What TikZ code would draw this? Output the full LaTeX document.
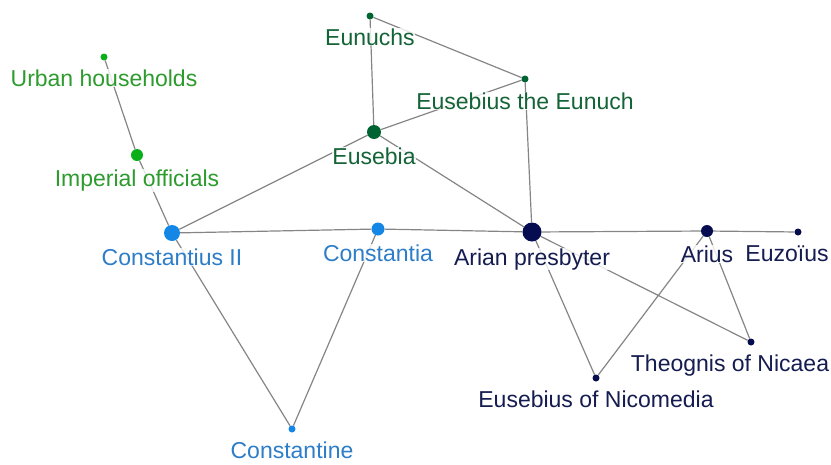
\documentclass[tikz,border=0pt]{standalone}
\usepackage{fontspec}
\setmainfont{Liberation Sans}
\usetikzlibrary{positioning,backgrounds}

\definecolor{ltgreen}{RGB}{10,175,25}
\definecolor{ltgreentxt}{RGB}{45,155,45}
\definecolor{dkgreen}{RGB}{0,100,50}
\definecolor{dkgreentxt}{RGB}{20,100,55}
\definecolor{midblue}{RGB}{20,135,230}
\definecolor{midbluetxt}{RGB}{45,125,200}
\definecolor{navy}{RGB}{5,12,80}
\definecolor{navytxt}{RGB}{20,28,80}

\begin{document}
\begin{tikzpicture}[x=1pt,y=-1pt,
  dot/.style={circle,fill=#1,inner sep=0pt},
  lbl/.style={text=#1,fill=white,fill opacity=0.8,text opacity=1,inner sep=0.5pt,
    font=\fontsize{23}{27}\selectfont},
  link/.style={draw=black!48,line width=1.2pt}]
  \useasboundingbox (0,0) rectangle (831,464);
  % actors
  \node[dot=ltgreen,minimum size=7pt] (uh) at (104,57) {};
  \node[dot=ltgreen,minimum size=12pt] (io) at (137,155) {};
  \node[dot=midblue,minimum size=16pt] (c2) at (172,233) {};
  \node[dot=midblue,minimum size=13pt] (ca) at (378,229) {};
  \node[dot=midblue,minimum size=7pt] (ce) at (292,429) {};
  \node[dot=dkgreen,minimum size=7pt] (eu) at (370,16) {};
  \node[dot=dkgreen,minimum size=7pt] (ee) at (525,79) {};
  \node[dot=dkgreen,minimum size=14pt] (es) at (374,132) {};
  \node[dot=navy,minimum size=19pt] (ap) at (532,232) {};
  \node[dot=navy,minimum size=12pt] (ar) at (707,231) {};
  \node[dot=navy,minimum size=7pt] (ez) at (798,232) {};
  \node[dot=navy,minimum size=7pt] (th) at (751,342) {};
  \node[dot=navy,minimum size=7pt] (en) at (596,378) {};
  % names
  \node[lbl=ltgreentxt,below=8pt of uh] (uhl) {Urban households};
  \node[lbl=ltgreentxt,below=8pt of io] (iol) {Imperial officials};
  \node[lbl=midbluetxt,below=7pt of c2] (c2l) {Constantius II};
  \node[lbl=midbluetxt,below=8pt of ca] (cal) {Constantia};
  \node[lbl=midbluetxt,below=8pt of ce] (cel) {Constantine};
  \node[lbl=dkgreentxt,below=8pt of eu] (eul) {Eunuchs};
  \node[lbl=dkgreentxt,below=9pt of ee] (eel) {Eusebius the Eunuch};
  \node[lbl=dkgreentxt,below=8pt of es] (esl) {Eusebia};
  \node[lbl=navytxt,below=6pt of ap] (apl) {Arian presbyter};
  \node[lbl=navytxt,below=8pt of ar] (arl) {Arius};
  \node[lbl=navytxt,below=9pt of ez,xshift=-11pt] (ezl) {Euzoïus};
  \node[lbl=navytxt,below=8pt of th,xshift=-21pt] (thl) {Theognis of Nicaea};
  \node[lbl=navytxt,below=8pt of en] (enl) {Eusebius of Nicomedia};
  % ties
  \begin{scope}[on background layer]
    \draw[link] (uh) -- (io) -- (c2);
    \draw[link] (c2) -- (es);
    \draw[link] (c2) -- (ca) -- (ap);
    \draw[link] (c2) -- (ce) -- (ca);
    \draw[link] (eu) -- (es) -- (ee) -- (eu);
    \draw[link] (ee) -- (ap) -- (es);
    \draw[link] (ap) -- (ar) -- (ez);
    \draw[link] (ap) -- (en) -- (ar) -- (th) -- (ap);
  \end{scope}
\end{tikzpicture}
\end{document}
